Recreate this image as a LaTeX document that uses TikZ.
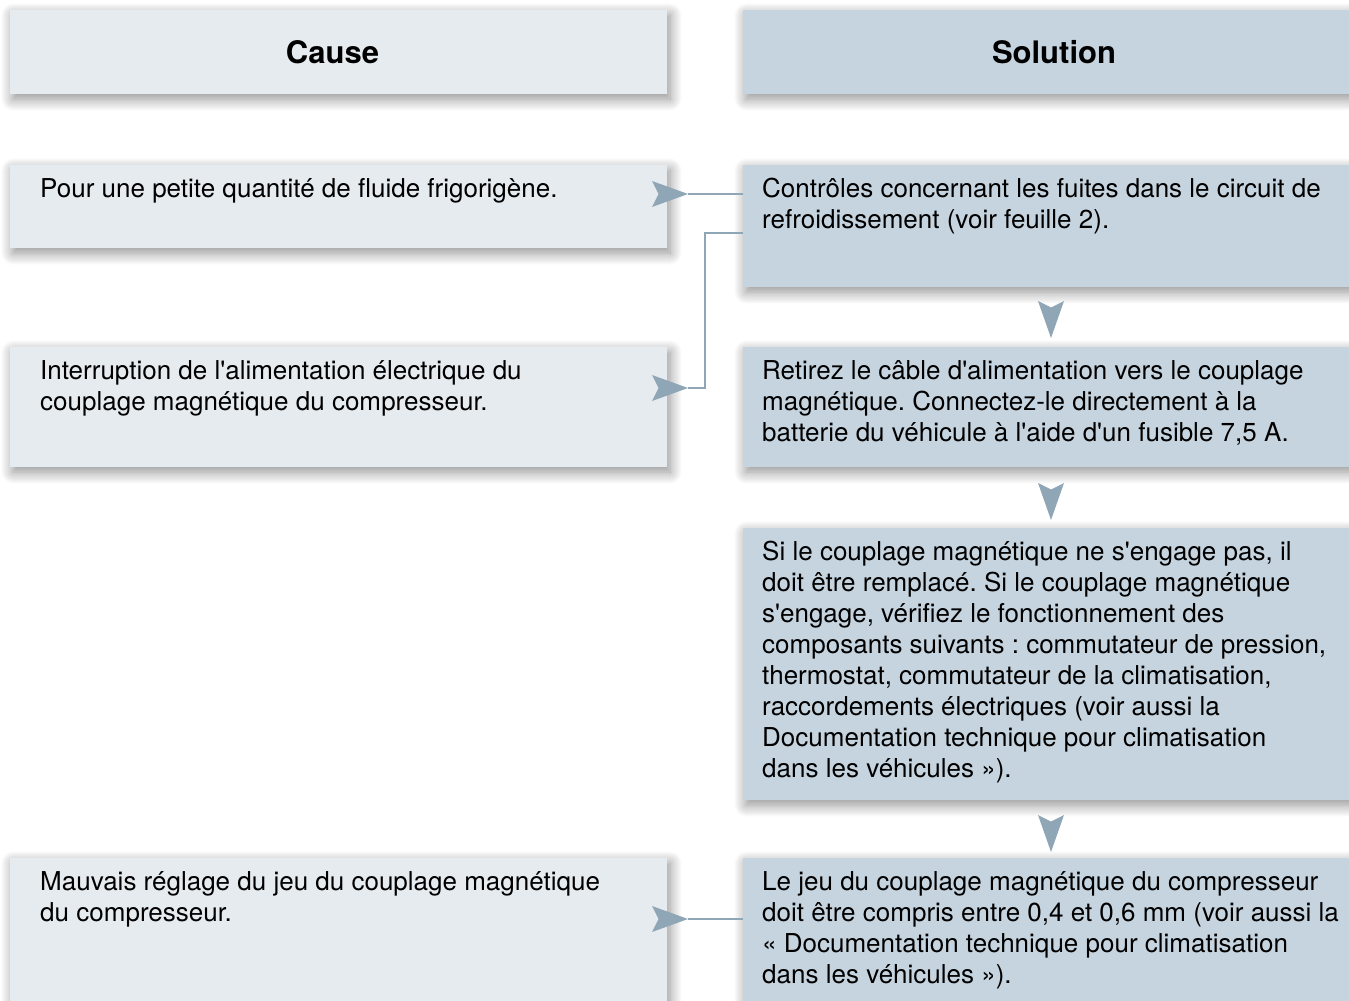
\documentclass[tikz,border=0pt]{standalone}
\usepackage{fontspec}
\setmainfont{TeX Gyre Heros}[Ligatures=TeXOff]
\usetikzlibrary{shadows.blur,calc}
\definecolor{causefill}{HTML}{E6EBF0}
\definecolor{solfill}{HTML}{C6D4DF}
\definecolor{linkcol}{HTML}{8FA6B6}
\frenchspacing

\begin{document}
\begin{tikzpicture}[x=1pt,y=-1pt,
  panel/.style={inner sep=0pt, outer sep=0pt, anchor=north west,
    blur shadow={shadow xshift=3pt, shadow yshift=-5pt,
                 shadow blur radius=12pt, shadow blur steps=12,
                 shadow opacity=45}},
  causebox/.style={panel, fill=causefill, minimum width=657pt},
  solbox/.style={panel, fill=solfill, minimum width=622pt},
  head/.style={inner sep=0pt, font=\fontsize{31}{37}\selectfont\bfseries},
  body/.style={anchor=north west, inner sep=0pt, align=flush left,
    text width=600pt, font=\fontsize{26}{31}\selectfont,
    execute at begin node={\rule{0pt}{24pt}}},
  link/.style={draw=linkcol, line width=2.5pt},
  dart/.style={fill=linkcol},
]
\useasboundingbox (0,0) rectangle (1349,1001);

% column headers
\node[causebox, minimum height=84pt] (c0) at (10,10) {};
\node[solbox, minimum height=84pt] (s0) at (743,10) {};
\node[head] (c0t) at ($(c0.center)+(-6,0)$) {Cause};
\node[head] (s0t) at (s0.center) {Solution};

% cause column
\node[causebox, minimum height=83pt] (c1) at (10,165) {};
\node[causebox, minimum height=120pt] (c2) at (10,347) {};
\node[causebox, minimum height=160pt] (c3) at (10,858) {};

% solution column
\node[solbox, minimum height=122pt] (s1) at (743,165) {};
\node[solbox, minimum height=120pt] (s2) at (743,347) {};
\node[solbox, minimum height=272pt] (s3) at (743,528) {};
\node[solbox, minimum height=160pt] (s4) at (743,858) {};

% texts
\node[body] (c1t) at ($(c1.north west)+(30,8)$)
  {Pour une petite quantité de fluide frigorigène.};
\node[body] (c2t) at ($(c2.north west)+(30,8)$)
  {Interruption de l'alimentation électrique du\\couplage magnétique du compresseur.};
\node[body] (c3t) at ($(c3.north west)+(30,8)$)
  {Mauvais réglage du jeu du couplage magnétique\\du compresseur.};

\node[body] (s1t) at ($(s1.north west)+(19,8)$)
  {Contrôles concernant les fuites dans le circuit de\\refroidissement (voir feuille 2).};
\node[body] (s2t) at ($(s2.north west)+(19,8)$)
  {Retirez le câble d'alimentation vers le couplage\\magnétique. Connectez-le directement à la\\batterie du véhicule à l'aide d'un fusible 7,5 A.};
\node[body] (s3t) at ($(s3.north west)+(19,8)$)
  {Si le couplage magnétique ne s'engage pas, il\\doit être remplacé. Si le couplage magnétique\\s'engage, vérifiez le fonctionnement des\\composants suivants : commutateur de pression,\\thermostat, commutateur de la climatisation,\\raccordements électriques (voir aussi la\\Documentation technique pour climatisation\\dans les véhicules »).};
\node[body] (s4t) at ($(s4.north west)+(19,8)$)
  {Le jeu du couplage magnétique du compresseur\\doit être compris entre 0,4 et 0,6 mm (voir aussi la\\« Documentation technique pour climatisation\\dans les véhicules »).};

% links between solutions and causes: line ends on the point of a dart
\coordinate (t1) at ($(c1.north east)+(21,29)$);
\coordinate (t2) at ($(c2.north east)+(21,41)$);
\coordinate (t3) at ($(c3.north east)+(21,61)$);
\draw[link] ($(s1.north west)+(0,29)$) -- (t1);
\draw[link] ($(s1.north west)+(0,68)$) -- ++(-38,0) |- (t2);
\draw[link] ($(s4.north west)+(0,61)$) -- (t3);
\foreach \t in {t1,t2,t3}
  \fill[dart] (\t) -- ++(-36,-13) -- ++(6.5,13) -- ++(-6.5,13) -- cycle;

% flow between solution steps
\coordinate (d1) at ($(s2.north)+(-3,-9)$);
\coordinate (d2) at ($(s3.north)+(-3,-8)$);
\coordinate (d3) at ($(s4.north)+(-3,-6)$);
\foreach \d in {d1,d2,d3}
  \fill[dart] (\d) -- ++(-13,-37) -- ++(13,6.5) -- ++(13,-6.5) -- cycle;
\end{tikzpicture}
\end{document}
